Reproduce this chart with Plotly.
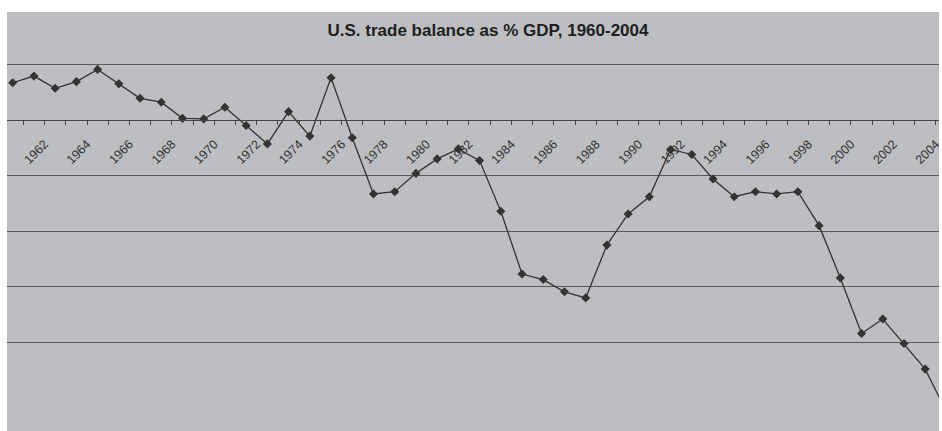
import plotly.graph_objects as go

years = list(range(1960, 2005))
balance_pct_gdp = [
    0.67, 0.79, 0.57, 0.69, 0.91, 0.65, 0.39, 0.32, 0.03, 0.02,
    0.23, -0.10, -0.43, 0.15, -0.29, 0.76, -0.32, -1.33, -1.29, -0.96,
    -0.70, -0.52, -0.73, -1.64, -2.77, -2.87, -3.09, -3.20, -2.25, -1.69,
    -1.38, -0.53, -0.62, -1.06, -1.38, -1.29, -1.33, -1.29, -1.90, -2.84,
    -3.84, -3.58, -4.02, -4.48, -5.25,
]
label_years = list(range(1962, 2005, 2))
grid_values = [1, 0, -1, -2, -3, -4]

W, H = 942, 431
ML, MT = 7, 12
bg = "#bdbec1"
ink = "#333333"

fig = go.Figure()
fig.add_trace(go.Scatter(
    x=years, y=balance_pct_gdp, mode="lines+markers",
    line=dict(color=ink, width=1.3),
    marker=dict(symbol="diamond", size=7, color=ink),
    cliponaxis=True, showlegend=False,
))

y_top = (120 - MT) / 55.6
y_bot = (120 - H) / 55.6
zero_pos = (H - 120) / (H - MT)

fig.update_layout(
    width=W, height=H,
    margin=dict(l=ML, r=0, t=MT, b=0, pad=0),
    paper_bgcolor="white", plot_bgcolor=bg,
    font=dict(family="Liberation Sans, Arial, sans-serif", color=ink, size=12),
    title=dict(
        text="U.S. trade balance as % GDP, 1960-2004",
        font=dict(family="Liberation Sans, Arial, sans-serif", size=17, color="#1e1e1e", weight="bold"),
        x=488 / W, xanchor="center", xref="container",
        y=1 - 30 / H, yanchor="middle", yref="container",
    ),
    xaxis=dict(
        range=[1959.73, 2003.65],
        anchor="free", position=zero_pos,
        showgrid=False, zeroline=False,
        showline=True, linecolor="#444444", linewidth=1,
        tickmode="array", tickvals=[y - 0.5 for y in label_years],
        ticktext=[str(y) for y in label_years],
        ticks="", tickangle=-45,
        ticklabelshift=0, ticklabelstandoff=11,
        ticklabeloverflow="allow",
        tickfont=dict(size=12.5, color=ink),
        minor=dict(ticks="outside", tick0=1959.5, dtick=1, ticklen=4,
                   tickcolor="#444444", tickwidth=1, showgrid=False),
    ),
    yaxis=dict(
        range=[y_bot, y_top],
        tickmode="array", tickvals=grid_values,
        showticklabels=False, ticks="",
        showgrid=True, gridcolor="#5a5a5a", gridwidth=1,
        zeroline=False, showline=False,
    ),
)

fig.write_html("out.html")
